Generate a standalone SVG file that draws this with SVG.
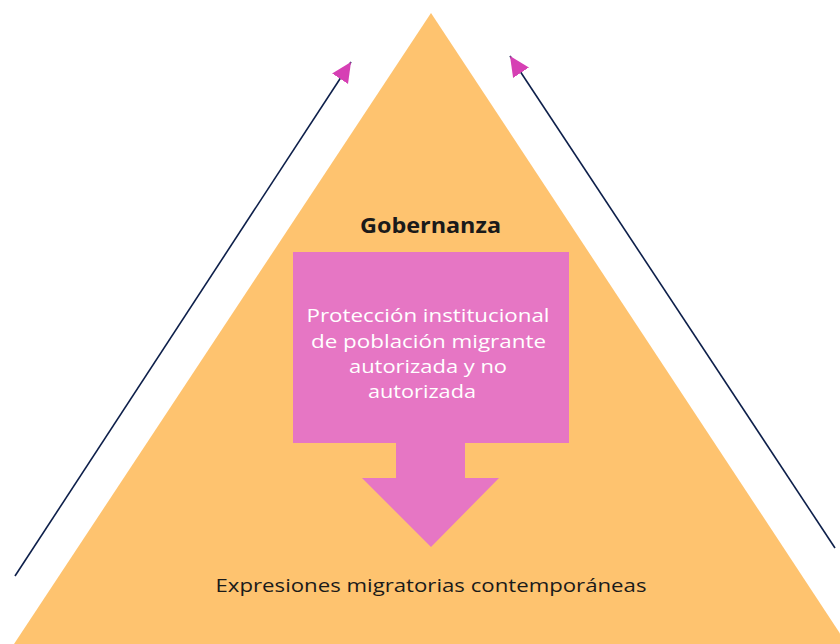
<svg xmlns="http://www.w3.org/2000/svg" width="840" height="644" viewBox="0 0 840 644">
<style>
.t{font-family:"Open Sans","Liberation Sans",sans-serif;text-anchor:middle}
.w{fill:#ffffff;font-size:18.5px}
.d{fill:#1a1a1a}
.ln{stroke:#0d1f4a;stroke-width:1.6;fill:none}
</style>
<defs>
<marker id="ah" markerUnits="userSpaceOnUse" markerWidth="24" markerHeight="24" viewBox="0 0 24 24" refX="20" refY="12" orient="auto">
<path d="M0,2.5 L20,12 L0,21.5 Z" fill="#d640b4"/>
</marker>
</defs>
<rect width="840" height="644" fill="#ffffff"/>
<g id="pyramid">
<polygon points="431,13 14,644 847,644" fill="#fec36f"/>
<text class="t d" x="430.5" y="233" font-size="20.5" font-weight="bold" textLength="141" lengthAdjust="spacingAndGlyphs">Gobernanza</text>
<text class="t d" x="431" y="592" font-size="18.5" textLength="431" lengthAdjust="spacingAndGlyphs">Expresiones migratorias contemporáneas</text>
</g>
<g id="box">
<rect x="293" y="252" width="276" height="191" fill="#e676c4"/>
<polygon points="396,443 465,443 465,478 499,478 431,547 362,478 396,478" fill="#e676c4"/>
<text class="t w" x="428" y="322" textLength="243" lengthAdjust="spacingAndGlyphs">Protección institucional</text>
<text class="t w" x="428.5" y="348" textLength="235" lengthAdjust="spacingAndGlyphs">de población migrante</text>
<text class="t w" x="428" y="373" textLength="158" lengthAdjust="spacingAndGlyphs">autorizada y no</text>
<text class="t w" x="422" y="398" textLength="108" lengthAdjust="spacingAndGlyphs">autorizada</text>
</g>
<g id="connectors">
<line class="ln" x1="15" y1="576" x2="351" y2="62" marker-end="url(#ah)"/>
<line class="ln" x1="835" y1="548" x2="510" y2="56" marker-end="url(#ah)"/>
</g>
</svg>
